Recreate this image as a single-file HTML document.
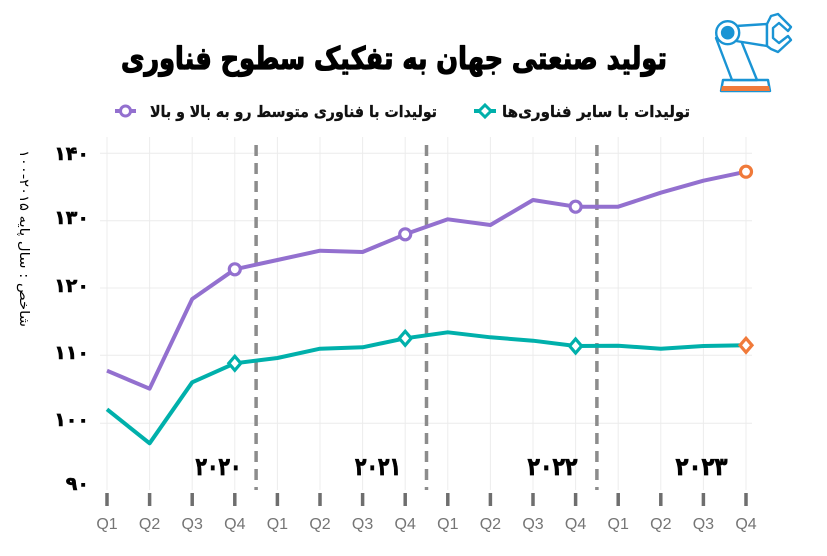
<!DOCTYPE html>
<html>
<head>
<meta charset="utf-8">
<style>
html,body{margin:0;padding:0;background:#fff;}
svg{display:block;}
.fa{font-family:"DejaVu Sans","Liberation Sans",sans-serif;}
</style>
</head>
<body>
<svg width="827" height="556" viewBox="0 0 827 556" xmlns="http://www.w3.org/2000/svg">
<rect width="827" height="556" fill="#fff"/>

<!-- Title -->
<text class="fa" x="394" y="69" font-size="31" font-weight="bold" text-anchor="middle" direction="rtl" fill="#000" stroke="#000" stroke-width="1.3" stroke-linejoin="round" textLength="546" lengthAdjust="spacingAndGlyphs">تولید صنعتی جهان به تفکیک سطوح فناوری</text>

<!-- Icon -->
<g fill="#fff" stroke="#1a94d4" stroke-width="2.4" stroke-linejoin="round">
  <polygon points="723,80 768,80 770,91 721,91" />
  <polygon points="716,38 732,80 757,80 740,38" />
  <polygon points="736,26 767,24 767,46 736,41" />
  <path d="M767,24 L771,16 L778,14 L791,27 L788,31 L779,23 L773,28 L773,38 L779,43 L788,36 L791,40 L778,52 L771,49 L767,46 Z" />
  <circle cx="727.7" cy="32.7" r="11.5" />
</g>
<polygon points="722,86 769,86 770,91 721,91" fill="#f07a3a"/>
<circle cx="727.7" cy="32.7" r="6.8" fill="#1a94d4"/>

<!-- Legend -->
<line x1="474" y1="111" x2="496" y2="111" stroke="#00b0ab" stroke-width="4"/>
<polygon points="485,105 491,111 485,117 479,111" fill="#fff" stroke="#00b0ab" stroke-width="3"/>
<text class="fa" x="596" y="117" font-size="16" font-weight="bold" text-anchor="middle" direction="rtl" fill="#111" stroke="#111" stroke-width="0.3" textLength="188" lengthAdjust="spacingAndGlyphs">تولیدات با سایر فناوری‌ها</text>
<line x1="115" y1="111" x2="136" y2="111" stroke="#9370cf" stroke-width="4"/>
<circle cx="125.5" cy="111" r="5" fill="#fff" stroke="#9370cf" stroke-width="3"/>
<text class="fa" x="293.5" y="117" font-size="16" font-weight="bold" text-anchor="middle" direction="rtl" fill="#111" stroke="#111" stroke-width="0.3" textLength="287" lengthAdjust="spacingAndGlyphs">تولیدات با فناوری متوسط رو به بالا و بالا</text>

<!-- Grid -->
<g stroke="#ececec" stroke-width="1">
  <line x1="100" y1="153.3" x2="752" y2="153.3"/>
  <line x1="100" y1="220.7" x2="752" y2="220.7"/>
  <line x1="100" y1="288" x2="752" y2="288"/>
  <line x1="100" y1="355.3" x2="752" y2="355.3"/>
  <line x1="100" y1="423.3" x2="752" y2="423.3"/>
  <line x1="107" y1="137" x2="107" y2="490"/>
  <line x1="149.6" y1="137" x2="149.6" y2="490"/>
  <line x1="192.2" y1="137" x2="192.2" y2="490"/>
  <line x1="234.8" y1="137" x2="234.8" y2="490"/>
  <line x1="277.4" y1="137" x2="277.4" y2="490"/>
  <line x1="320" y1="137" x2="320" y2="490"/>
  <line x1="362.6" y1="137" x2="362.6" y2="490"/>
  <line x1="405.2" y1="137" x2="405.2" y2="490"/>
  <line x1="447.8" y1="137" x2="447.8" y2="490"/>
  <line x1="490.4" y1="137" x2="490.4" y2="490"/>
  <line x1="533" y1="137" x2="533" y2="490"/>
  <line x1="575.6" y1="137" x2="575.6" y2="490"/>
  <line x1="618.2" y1="137" x2="618.2" y2="490"/>
  <line x1="660.8" y1="137" x2="660.8" y2="490"/>
  <line x1="703.4" y1="137" x2="703.4" y2="490"/>
  <line x1="746" y1="137" x2="746" y2="490"/>
</g>

<!-- Y labels -->
<g class="fa" font-size="19" font-weight="bold" fill="#000" stroke="#000" stroke-width="0.6" text-anchor="end">
  <text x="89" y="160">۱۴۰</text>
  <text x="89" y="224">۱۳۰</text>
  <text x="89" y="292">۱۲۰</text>
  <text x="89" y="359">۱۱۰</text>
  <text x="89" y="426">۱۰۰</text>
  <text x="89" y="490">۹۰</text>
</g>
<text class="fa" transform="translate(20,238.5) rotate(90)" font-size="13" fill="#000" text-anchor="middle" direction="rtl" textLength="177" lengthAdjust="spacingAndGlyphs">شاخص : سال پایه ۲۰۱۵-۱۰۰</text>

<!-- Dashed year separators -->
<g stroke="#8c8c8c" stroke-width="3.5" stroke-dasharray="11 7">
  <line x1="256.1" y1="145" x2="256.1" y2="490"/>
  <line x1="426.5" y1="145" x2="426.5" y2="490"/>
  <line x1="596.9" y1="145" x2="596.9" y2="490"/>
</g>

<!-- Year labels -->
<g class="fa" font-size="25" font-weight="bold" fill="#000" stroke="#000" stroke-width="0.7" text-anchor="middle">
  <text x="218.5" y="475" textLength="46" lengthAdjust="spacingAndGlyphs">۲۰۲۰</text>
  <text x="378" y="475" textLength="46" lengthAdjust="spacingAndGlyphs">۲۰۲۱</text>
  <text x="552.5" y="475" textLength="50" lengthAdjust="spacingAndGlyphs">۲۰۲۲</text>
  <text x="701.5" y="475" textLength="52" lengthAdjust="spacingAndGlyphs">۲۰۲۳</text>
</g>

<!-- Series -->
<polyline fill="none" stroke="#9370cf" stroke-width="4" stroke-linejoin="round"
 points="107,370.7 149.6,388.7 192.2,299 234.8,269.3 277.4,260 320,250.7 362.6,252 405.2,234.3 447.8,219.3 490.4,225 533,200 575.6,206.7 618.2,206.7 660.8,192.7 703.4,180.7 746,171.7"/>
<polyline fill="none" stroke="#00b0ab" stroke-width="4" stroke-linejoin="round"
 points="107,409.3 149.6,443.3 192.2,382.3 234.8,363.3 277.4,358 320,348.7 362.6,347.3 405.2,338.3 447.8,332.3 490.4,337.3 533,340.7 575.6,346 618.2,345.7 660.8,348.7 703.4,346 746,345.3"/>

<!-- Markers -->
<g fill="#fff" stroke-width="3.2">
  <circle cx="234.8" cy="269.3" r="5.5" stroke="#9370cf"/>
  <circle cx="405.2" cy="234.3" r="5.5" stroke="#9370cf"/>
  <circle cx="575.6" cy="206.7" r="5.5" stroke="#9370cf"/>
  <circle cx="746" cy="171.7" r="5.5" stroke="#f07a3a"/>
  <polygon points="234.8,356.3 240.8,363.3 234.8,370.3 228.8,363.3" stroke="#00b0ab"/>
  <polygon points="405.2,331.3 411.2,338.3 405.2,345.3 399.2,338.3" stroke="#00b0ab"/>
  <polygon points="575.6,339 581.6,346 575.6,353 569.6,346" stroke="#00b0ab"/>
  <polygon points="746,338.3 752,345.3 746,352.3 740,345.3" stroke="#f07a3a"/>
</g>

<!-- X ticks -->
<g stroke="#6e6e6e" stroke-width="3.5">
  <line x1="107" y1="493" x2="107" y2="506"/>
  <line x1="149.6" y1="493" x2="149.6" y2="506"/>
  <line x1="192.2" y1="493" x2="192.2" y2="506"/>
  <line x1="234.8" y1="493" x2="234.8" y2="506"/>
  <line x1="277.4" y1="493" x2="277.4" y2="506"/>
  <line x1="320" y1="493" x2="320" y2="506"/>
  <line x1="362.6" y1="493" x2="362.6" y2="506"/>
  <line x1="405.2" y1="493" x2="405.2" y2="506"/>
  <line x1="447.8" y1="493" x2="447.8" y2="506"/>
  <line x1="490.4" y1="493" x2="490.4" y2="506"/>
  <line x1="533" y1="493" x2="533" y2="506"/>
  <line x1="575.6" y1="493" x2="575.6" y2="506"/>
  <line x1="618.2" y1="493" x2="618.2" y2="506"/>
  <line x1="660.8" y1="493" x2="660.8" y2="506"/>
  <line x1="703.4" y1="493" x2="703.4" y2="506"/>
  <line x1="746" y1="493" x2="746" y2="506"/>
</g>

<!-- X labels -->
<g font-family="Liberation Sans, sans-serif" font-size="16" fill="#757575" text-anchor="middle">
  <text x="107" y="529">Q1</text>
  <text x="149.6" y="529">Q2</text>
  <text x="192.2" y="529">Q3</text>
  <text x="234.8" y="529">Q4</text>
  <text x="277.4" y="529">Q1</text>
  <text x="320" y="529">Q2</text>
  <text x="362.6" y="529">Q3</text>
  <text x="405.2" y="529">Q4</text>
  <text x="447.8" y="529">Q1</text>
  <text x="490.4" y="529">Q2</text>
  <text x="533" y="529">Q3</text>
  <text x="575.6" y="529">Q4</text>
  <text x="618.2" y="529">Q1</text>
  <text x="660.8" y="529">Q2</text>
  <text x="703.4" y="529">Q3</text>
  <text x="746" y="529">Q4</text>
</g>
</svg>
</body>
</html>
